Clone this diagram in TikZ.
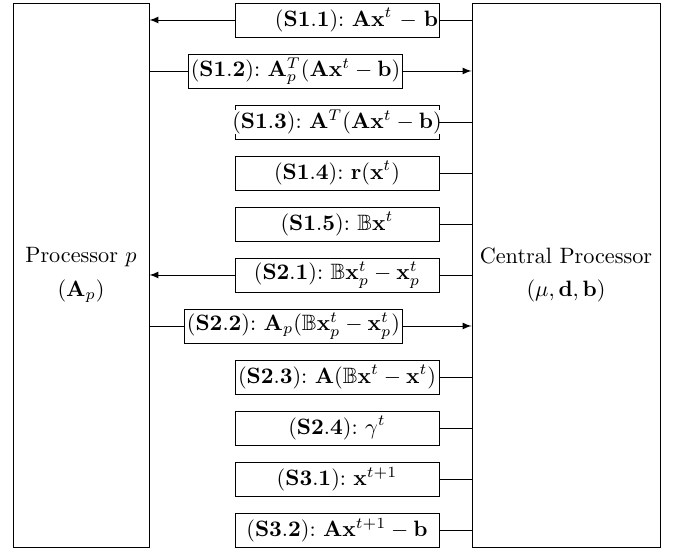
\documentclass[tikz,border=0pt]{standalone}
\usepackage{amsmath}
\usepackage{amsfonts}
\usepackage{amssymb}
\usepackage{tikz}
\usetikzlibrary{positioning}
\frenchspacing

\begin{document}
\begin{tikzpicture}[x=0.45pt,y=-0.45pt]
\tikzstyle{every node}+=[inner sep=0pt]
\tikzstyle{step box}=[draw, minimum width=91.8pt, minimum height=15.3pt]
\tikzstyle{wide box}=[draw, inner xsep=1pt, minimum height=15.3pt]
\useasboundingbox (0,0) rectangle (678,550);
\node [draw, minimum width=61.2pt, minimum height=244.8pt] (proc) at (81,275) {};
\node [draw, minimum width=84.6pt, minimum height=244.8pt] (central) at (566,275) {};
\node [align=center] (proclabel) at (81,275) {Processor $p$\\[3pt]$(\mathbf{A}_p)$};
\node [align=center] (centrallabel) at (566,275) {Central Processor\\[3pt]$(\mu,\mathbf{d},\mathbf{b})$};
\node [step box, text width=91pt, align=right] (s11) at (337,20) {$(\mathbf{S1.1})$: $\mathbf{A}\mathbf{x}^t-\mathbf{b}$};
\node [wide box] (s12) at (295.5,71) {$(\mathbf{S1.2})$: $\mathbf{A}_p^T(\mathbf{A}\mathbf{x}^t-\mathbf{b})$};
\node [step box] (s13) at (337,122) {};
\node [fill=white] (s13text) at (s13) {$(\mathbf{S1.3})$: $\mathbf{A}^T(\mathbf{A}\mathbf{x}^t-\mathbf{b})$};
\node [step box] (s14) at (337,173) {$(\mathbf{S1.4})$: $\mathbf{r}(\mathbf{x}^t)$};
\node [step box] (s15) at (337,224) {$(\mathbf{S1.5})$: $\mathbb{B}\mathbf{x}^t$};
\node [step box] (s21) at (337,275) {$(\mathbf{S2.1})$: $\mathbb{B}\mathbf{x}_p^t-\mathbf{x}_p^t$};
\node [wide box] (s22) at (293.5,326) {$(\mathbf{S2.2})$: $\mathbf{A}_p(\mathbb{B}\mathbf{x}_p^t-\mathbf{x}_p^t)$};
\node [step box] (s23) at (337,377) {$(\mathbf{S2.3})$: $\mathbf{A}(\mathbb{B}\mathbf{x}^t-\mathbf{x}^t)$};
\node [step box] (s24) at (337,428) {$(\mathbf{S2.4})$: $\gamma^t$};
\node [step box] (s31) at (337,479) {$(\mathbf{S3.1})$: $\mathbf{x}^{t+1}$};
\node [step box] (s32) at (337,530) {$(\mathbf{S3.2})$: $\mathbf{A}\mathbf{x}^{t+1}-\mathbf{b}$};
% from the central processor to processor p
\draw [-latex] (s11.west) -- (s11.west -| proc.east);
\draw (s11.east) -- (s11.east -| central.west);
\draw [-latex] (s21.west) -- (s21.west -| proc.east);
\draw (s21.east) -- (s21.east -| central.west);
% from processor p to the central processor
\draw (s12.west -| proc.east) -- (s12.west);
\draw [-latex] (s12.east) -- (s12.east -| central.west);
\draw (s22.west -| proc.east) -- (s22.west);
\draw [-latex] (s22.east) -- (s22.east -| central.west);
% central steps
\draw (s13.east) -- (s13.east -| central.west);
\draw (s14.east) -- (s14.east -| central.west);
\draw (s15.east) -- (s15.east -| central.west);
\draw (s23.east) -- (s23.east -| central.west);
\draw (s24.east) -- (s24.east -| central.west);
\draw (s31.east) -- (s31.east -| central.west);
\draw (s32.east) -- (s32.east -| central.west);
\end{tikzpicture}
\end{document}
